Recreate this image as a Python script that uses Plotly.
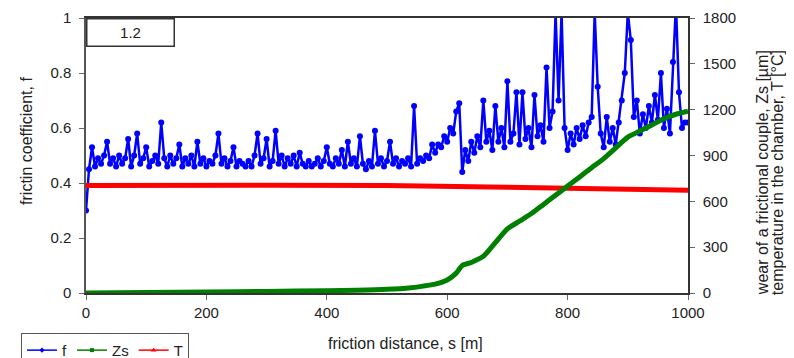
import plotly.graph_objects as go

# friction coefficient f, sampled every 5 m of friction distance (0..1000 m)
f_values = [
    0.30, 0.45, 0.53, 0.46, 0.49, 0.47, 0.50, 0.55, 0.47, 0.49,
    0.46, 0.50, 0.47, 0.49, 0.56, 0.46, 0.50, 0.58, 0.47, 0.49,
    0.53, 0.46, 0.48, 0.50, 0.47, 0.62, 0.49, 0.46, 0.50, 0.47,
    0.49, 0.54, 0.46, 0.49, 0.47, 0.50, 0.46, 0.55, 0.47, 0.49,
    0.46, 0.48, 0.47, 0.50, 0.58, 0.47, 0.49, 0.46, 0.48, 0.53,
    0.46, 0.48, 0.47, 0.46, 0.48, 0.46, 0.50, 0.58, 0.47, 0.49,
    0.56, 0.46, 0.48, 0.59, 0.47, 0.50, 0.46, 0.49, 0.47, 0.50,
    0.46, 0.51, 0.47, 0.46, 0.48, 0.46, 0.47, 0.49, 0.46, 0.48,
    0.53, 0.47, 0.46, 0.49, 0.47, 0.52, 0.46, 0.55, 0.47, 0.49,
    0.46, 0.57, 0.47, 0.45, 0.48, 0.46, 0.59, 0.47, 0.49, 0.46,
    0.48, 0.55, 0.47, 0.49, 0.46, 0.48, 0.47, 0.49, 0.46, 0.68,
    0.47, 0.49, 0.48, 0.50, 0.49, 0.54, 0.51, 0.54, 0.53, 0.57,
    0.55, 0.60, 0.58, 0.66, 0.69, 0.44, 0.52, 0.48, 0.55, 0.51,
    0.57, 0.53, 0.70, 0.55, 0.59, 0.52, 0.68, 0.55, 0.60, 0.53,
    0.77, 0.55, 0.58, 0.73, 0.54, 0.73, 0.56, 0.60, 0.53, 0.72,
    0.57, 0.61, 0.55, 0.82, 0.60, 0.66, 1.02, 0.70, 1.02, 0.60,
    0.52, 0.58, 0.54, 0.60, 0.56, 0.61, 0.57, 0.62, 0.64, 1.02,
    0.75, 0.58, 0.53, 0.64, 0.55, 0.60, 0.54, 0.62, 0.70, 0.80,
    1.02, 0.92, 0.64, 0.70, 0.58, 0.65, 0.60, 0.68, 0.62, 0.72,
    0.63, 0.80, 0.60, 0.67, 0.58, 0.84, 1.05, 0.73, 0.60, 0.62,
    0.62,
]
f_distance = list(range(0, 1001, 5))

# wear of the frictional couple Zs [um]
zs_distance = [0, 100, 200, 300, 400, 450, 500, 540, 560, 580, 600, 615, 625, 640,
               660, 680, 700, 720, 740, 760, 780, 800, 820, 840, 860, 880, 900,
               920, 940, 960, 980, 1000]
zs_values = [0, 3, 6, 10, 15, 18, 24, 35, 45, 58, 85, 130, 180, 200,
             240, 330, 420, 470, 520, 580, 640, 700, 760, 820, 880, 950, 1020,
             1060, 1100, 1140, 1170, 1190]

# temperature in the chamber T [degC]
t_distance = [0, 100, 300, 500, 600, 700, 800, 900, 1000]
t_values = [703, 705, 705, 703, 700, 692, 685, 678, 672]

x_ticks = [0, 200, 400, 600, 800, 1000]
f_ticks = [0, 0.2, 0.4, 0.6, 0.8, 1]
right_ticks = [0, 300, 600, 900, 1200, 1500, 1800]

BLUE = "#0000FF"
GREEN = "#008000"
RED = "#FF0000"
FONT = "Liberation Sans, Arial, sans-serif"

fig = go.Figure()

fig.add_trace(go.Scatter(
    x=t_distance, y=t_values, yaxis="y2", mode="lines",
    line=dict(color=RED, width=5), showlegend=False, name="T"))
fig.add_trace(go.Scatter(
    x=zs_distance, y=zs_values, yaxis="y2", mode="lines",
    line=dict(color=GREEN, width=5, shape="spline", smoothing=0.6),
    showlegend=False, name="Zs"))
fig.add_trace(go.Scatter(
    x=f_distance, y=f_values, mode="lines+markers",
    line=dict(color=BLUE, width=2.5),
    marker=dict(color=BLUE, size=6, symbol="circle"),
    showlegend=False, name="f"))

# legend entries (thin lines with markers, as in the reference legend)
fig.add_trace(go.Scatter(x=[None], y=[None], mode="lines+markers", name="f",
                         line=dict(color=BLUE, width=1.5),
                         marker=dict(color=BLUE, size=4, symbol="diamond")))
fig.add_trace(go.Scatter(x=[None], y=[None], mode="lines+markers", name="Zs",
                         line=dict(color=GREEN, width=1.5),
                         marker=dict(color=GREEN, size=4, symbol="square")))
fig.add_trace(go.Scatter(x=[None], y=[None], mode="lines+markers", name="T",
                         line=dict(color=RED, width=1.5),
                         marker=dict(color=RED, size=5, symbol="triangle-up")))

axis_common = dict(showgrid=False, zeroline=False, ticks="outside", ticklen=5,
                   tickcolor="#666666", tickfont=dict(size=15, color="#222222"),
                   showline=True, linewidth=1.5, automargin=False)

# the page places the figure 8 px from the window's top-left corner
fig.update_layout(
    width=786, height=350, autosize=False,
    margin=dict(l=78, r=106, t=10, b=65, autoexpand=False),
    paper_bgcolor="white", plot_bgcolor="white",
    font=dict(family=FONT, size=15, color="#222222"),
    xaxis=dict(range=[0, 1000], tickvals=x_ticks, linecolor="#333333",
               mirror=True, **axis_common),
    yaxis=dict(range=[0, 1], tickvals=f_ticks, linecolor="#555555",
               ticklabelstandoff=5, **axis_common),
    yaxis2=dict(range=[0, 1800], tickvals=right_ticks, overlaying="y",
                side="right", linecolor="#333333", ticklabelstandoff=5,
                **axis_common),
    legend=dict(orientation="h", x=-0.108, y=-0.145, xanchor="left",
                yanchor="top", bordercolor="#555555", borderwidth=1,
                font=dict(size=15), itemwidth=30,
                tracegroupgap=0, bgcolor="white"),
    annotations=[
        dict(text="1.2", xref="paper", yref="paper", x=0, y=1,
             xanchor="left", yanchor="top", showarrow=False,
             width=84, height=24, bordercolor="#333333", borderwidth=1.5,
             bgcolor="white", font=dict(size=15)),
        dict(text="friction distance, s [m]", xref="paper", yref="paper",
             x=0.53, y=-0.182, xanchor="center", yanchor="middle",
             showarrow=False, font=dict(size=16)),
        dict(text="frictin coefficient, f", xref="paper", yref="paper",
             x=-0.098, y=0.313, xanchor="center", yanchor="bottom",
             textangle=-90, showarrow=False, font=dict(size=16)),
        dict(text="wear of a frictional couple, Zs [µm]",
             xref="paper", yref="paper", x=1.1238, y=-0.015, xanchor="center",
             yanchor="bottom", textangle=-90, showarrow=False,
             font=dict(size=16)),
        dict(text="temperature in the chamber, T [°C]",
             xref="paper", yref="paper", x=1.1487, y=-0.015, xanchor="center",
             yanchor="bottom", textangle=-90, showarrow=False,
             font=dict(size=16)),
    ],
)

fig.write_html("out.html")
